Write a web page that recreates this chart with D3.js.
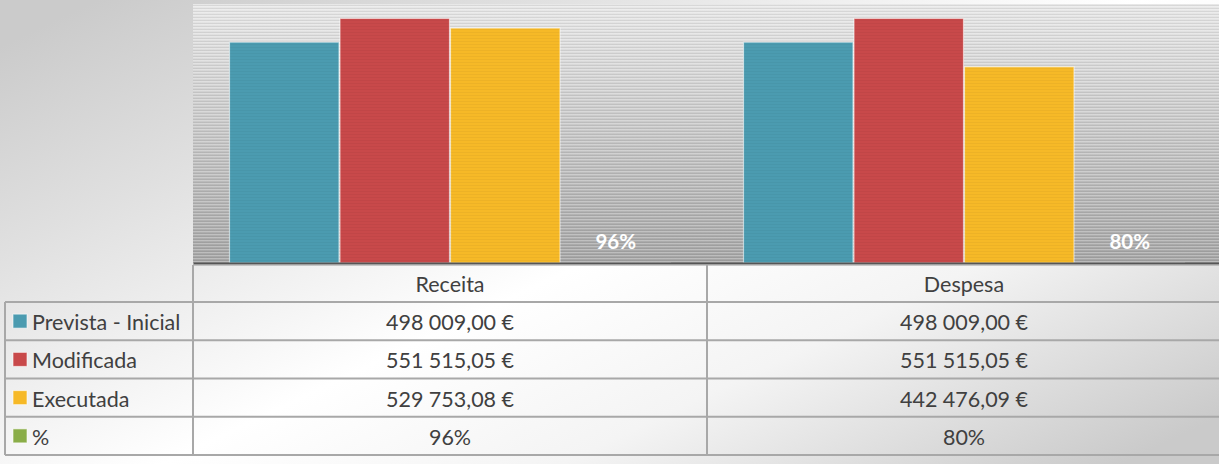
<!DOCTYPE html>
<html>
<head>
<meta charset="utf-8">
<script src="https://cdnjs.cloudflare.com/ajax/libs/d3/7.8.5/d3.min.js"></script>
<style>
  html, body { margin: 0; padding: 0; background: #fff; }
  svg { display: block; }
  text { font-family: Lato, "Open Sans", sans-serif; }
</style>
</head>
<body>
<svg id="chart" width="1219" height="464"></svg>
<script>
// ---- data ----
const categories = ["Receita", "Despesa"];
const seriesNames = ["Prevista - Inicial", "Modificada", "Executada", "%"];
const previstaInicial = [498009.00, 498009.00];
const modificada = [551515.05, 551515.05];
const executada = [529753.08, 442476.09];
const percentValues = [0.96, 0.80];
const yMax = 584000;
const seriesColors = ["#4b9bb0", "#c8494a", "#f6b927", "#8aad48"];

const seriesValues = [previstaInicial, modificada, executada, percentValues];

// ---- layout ----
const W = 1219, H = 464;
const plot = { left: 193, right: 1221, top: 4, bottom: 263 };
const tableLeft = 5;
const headerBottom = 302;
const rowH = 38.25;
const fontSize = 21.5;

const svg = d3.select("#chart");
const defs = svg.append("defs");

const bgGrad = defs.append("linearGradient").attr("id", "bgGrad")
  .attr("x1", 0).attr("y1", 0.1).attr("x2", 1).attr("y2", 0.9);
[[0, "#cbcbcb"], [0.22, "#e0e0e0"], [0.52, "#ffffff"], [0.72, "#f4f4f4"], [1, "#cacaca"]]
  .forEach(([o, c]) => bgGrad.append("stop").attr("offset", o).attr("stop-color", c));

const plotGrad = defs.append("linearGradient").attr("id", "plotGrad")
  .attr("x1", 0).attr("y1", 0).attr("x2", 0).attr("y2", 1);
[[0, "#e8e8e8"], [0.45, "#cbcbcb"], [1, "#a6a6a6"]]
  .forEach(([o, c]) => plotGrad.append("stop").attr("offset", o).attr("stop-color", c));

const stripes = defs.append("pattern").attr("id", "stripes")
  .attr("patternUnits", "userSpaceOnUse").attr("width", 8).attr("height", 3);
stripes.append("rect").attr("x", 0).attr("y", 0).attr("width", 8).attr("height", 1)
  .attr("fill", "rgba(255,255,255,0.24)");
stripes.append("rect").attr("x", 0).attr("y", 2).attr("width", 8).attr("height", 1)
  .attr("fill", "rgba(0,0,0,0.07)");

const barStripes = defs.append("pattern").attr("id", "barStripes")
  .attr("patternUnits", "userSpaceOnUse").attr("width", 8).attr("height", 3);
barStripes.append("rect").attr("x", 0).attr("y", 2).attr("width", 8).attr("height", 1)
  .attr("fill", "rgba(0,0,0,0.035)");

// background
svg.append("rect").attr("width", W).attr("height", H).attr("fill", "url(#bgGrad)");

// plot area
svg.append("rect").attr("x", plot.left).attr("y", plot.top)
  .attr("width", plot.right - plot.left).attr("height", plot.bottom - plot.top)
  .attr("fill", "url(#plotGrad)");
svg.append("rect").attr("x", plot.left).attr("y", plot.top)
  .attr("width", plot.right - plot.left).attr("height", plot.bottom - plot.top)
  .attr("fill", "url(#stripes)");

// scales
const x0 = d3.scaleBand().domain(categories).range([plot.left, plot.right]).padding(0);
const x1 = d3.scaleBand().domain(seriesNames).range([0, x0.bandwidth()])
  .paddingInner(0).paddingOuter(0.3258);
const y = d3.scaleLinear().domain([0, yMax]).range([plot.bottom, plot.top]);

// bars
const groups = svg.append("g").selectAll("g").data(categories).join("g")
  .attr("transform", d => `translate(${x0(d)},0)`);

groups.selectAll("rect.bar")
  .data((cat, ci) => seriesNames.map((s, si) => ({ s, si, v: seriesValues[si][ci] })))
  .join("rect").attr("class", "bar")
  .attr("x", d => x1(d.s) + 0.5)
  .attr("width", x1.bandwidth() - 1)
  .attr("y", d => y(d.v))
  .attr("height", d => y(0) - y(d.v))
  .attr("fill", d => seriesColors[d.si])
  .attr("stroke", "rgba(255,255,255,0.55)")
  .attr("stroke-width", 1.2);

groups.selectAll("rect.barstripe")
  .data((cat, ci) => seriesNames.map((s, si) => ({ s, si, v: seriesValues[si][ci] })))
  .join("rect").attr("class", "barstripe")
  .attr("x", d => x1(d.s) + 1)
  .attr("width", x1.bandwidth() - 2)
  .attr("y", d => y(d.v) + 1)
  .attr("height", d => Math.max(0, y(0) - y(d.v) - 1))
  .attr("fill", "url(#barStripes)");

// % labels
const pctFmt = d3.format(".0%");
groups.append("text")
  .attr("x", x1("%") + x1.bandwidth() / 2)
  .attr("y", (cat, ci) => y(percentValues[ci]) - 22)
  .attr("text-anchor", "middle")
  .attr("dominant-baseline", "central")
  .attr("fill", "#ffffff")
  .attr("font-weight", "bold")
  .attr("font-size", 20.5)
  .text((cat, ci) => pctFmt(percentValues[ci]));

// axis baseline
const axis = svg.append("g").attr("transform", `translate(0,${plot.bottom})`)
  .call(d3.axisBottom(x0).tickSize(0).tickFormat(""));
axis.select(".domain").attr("stroke", "#555555").attr("stroke-width", 2);
svg.append("line").attr("x1", plot.left).attr("x2", plot.right)
  .attr("y1", plot.bottom + 2).attr("y2", plot.bottom + 2)
  .attr("stroke", "#9a9a9a").attr("stroke-width", 1);

// ---- data table ----
const locale = d3.formatLocale({ decimal: ",", thousands: " ", grouping: [3], currency: ["", " €"] });
const money = locale.format("$,.2f");

const table = svg.append("g");
const lineColor = "#a8a8a8";
const tableBottom = headerBottom + rowH * seriesNames.length;

// horizontal lines
d3.range(seriesNames.length + 1).forEach(i => {
  const yy = headerBottom + rowH * i;
  table.append("line").attr("x1", tableLeft).attr("x2", W + 10)
    .attr("y1", yy).attr("y2", yy).attr("stroke", lineColor).attr("stroke-width", 2);
});
// vertical lines
table.append("line").attr("x1", tableLeft).attr("x2", tableLeft)
  .attr("y1", headerBottom).attr("y2", tableBottom).attr("stroke", lineColor).attr("stroke-width", 2);
[plot.left, x0("Despesa")].forEach(xx => {
  table.append("line").attr("x1", xx).attr("x2", xx)
    .attr("y1", plot.bottom + 2).attr("y2", tableBottom).attr("stroke", lineColor).attr("stroke-width", 2);
});

// header labels
table.selectAll("text.cat").data(categories).join("text").attr("class", "cat")
  .attr("x", d => x0(d) + x0.bandwidth() / 2)
  .attr("y", (plot.bottom + headerBottom) / 2 + 1)
  .attr("text-anchor", "middle").attr("dominant-baseline", "central")
  .attr("font-size", fontSize).attr("fill", "#404040")
  .text(d => d);

// legend + values
seriesNames.forEach((s, si) => {
  const cy = headerBottom + rowH * si + rowH / 2;
  table.append("rect").attr("x", 13).attr("y", cy - 7).attr("width", 14).attr("height", 14)
    .attr("fill", seriesColors[si]).attr("stroke", "rgba(255,255,255,0.6)").attr("stroke-width", 1);
  table.append("text").attr("x", 32).attr("y", cy + 1)
    .attr("dominant-baseline", "central").attr("font-size", fontSize).attr("fill", "#404040")
    .text(s);
  categories.forEach((c, ci) => {
    const v = seriesValues[si][ci];
    table.append("text")
      .attr("x", x0(c) + x0.bandwidth() / 2)
      .attr("y", cy + 1)
      .attr("text-anchor", "middle").attr("dominant-baseline", "central")
      .attr("font-size", fontSize).attr("fill", "#404040")
      .text(s === "%" ? pctFmt(v) : money(v));
  });
});
</script>
</body>
</html>
